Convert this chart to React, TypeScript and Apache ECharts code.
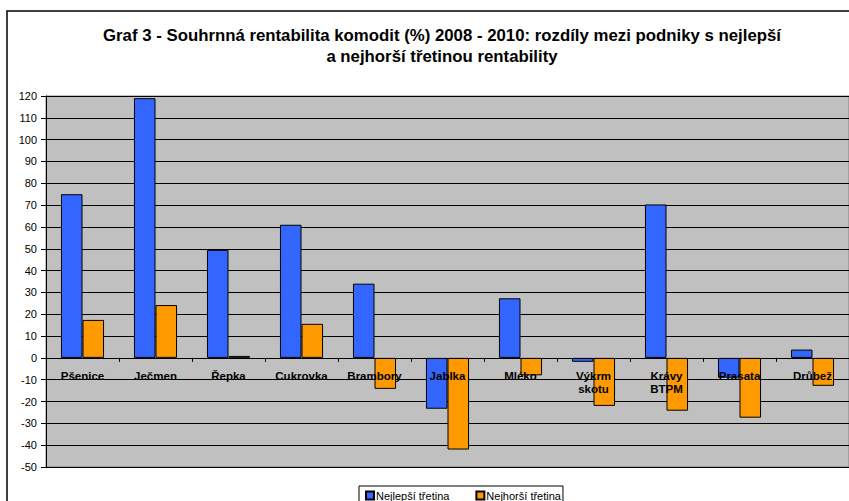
import React, { useEffect, useRef } from "react";
import * as echarts from "echarts";

const categories = [
  "Pšenice",
  "Ječmen",
  "Řepka",
  "Cukrovka",
  "Brambory",
  "Jablka",
  "Mléko",
  "Výkrm\nskotu",
  "Krávy\nBTPM",
  "Prasata",
  "Drůbež",
];
const bestThird = [75, 119, 49.5, 61, 34, -23.3, 27.3, -1.8, 70.3, -9.1, 3.8];
const worstThird = [17.4, 24.2, 0.9, 15.6, -14.2, -42, -8, -22, -24.2, -27.4, -12.8];
const seriesNames = ["Nejlepší třetina", "Nejhorší třetina"];
const titleText =
  "Graf 3 - Souhrnná rentabilita komodit (%) 2008 - 2010: rozdíly mezi podniky s nejlepší\na nejhorší třetinou rentability";
const yMin = -50;
const yMax = 120;

const FONT = "'Liberation Sans', Arial, sans-serif";
const GRID_TOP = 96;
const GRID_H = 371;

export default function App() {
  const ref = useRef<HTMLDivElement>(null);
  useEffect(() => {
    document.body.style.margin = "0";
    const chart = echarts.init(ref.current!, null, { renderer: "svg" });
    // distance from the grid bottom to the zero line, so the category axis sits on zero
    const zeroOffset = (GRID_H * (0 - yMin)) / (yMax - yMin);
    chart.setOption({
      animation: false,
      backgroundColor: "#ffffff",
      textStyle: { fontFamily: FONT },
      title: {
        text: titleText,
        left: 437,
        top: 20,
        textAlign: "center",
        textStyle: {
          fontFamily: FONT,
          fontSize: 16.8,
          fontWeight: "bold",
          color: "#000",
          lineHeight: 21,
        },
      },
      graphic: [
        {
          type: "rect",
          shape: { x: 7, y: 11, width: 860, height: 520 },
          style: { fill: "none", stroke: "#000", lineWidth: 1.5 },
          silent: true,
          z: 100,
        },
      ],
      legend: {
        left: 359,
        top: 486,
        itemWidth: 8,
        itemHeight: 8,
        itemGap: 26,
        padding: [4, 2, 6, 6],
        borderColor: "#000",
        borderWidth: 1,
        borderRadius: 0,
        icon: "rect",
        textStyle: { fontFamily: FONT, fontSize: 11, color: "#000", padding: [0, 0, 0, -3] },
        data: seriesNames,
      },
      grid: {
        left: 46,
        top: GRID_TOP,
        width: 808,
        height: GRID_H,
        show: true,
        backgroundColor: "#c0c0c0",
        borderColor: "#808080",
        borderWidth: 1,
      },
      xAxis: {
        type: "category",
        data: categories,
        z: 5,
        position: "bottom",
        offset: -zeroOffset,
        axisLine: { onZero: false, lineStyle: { color: "#000", width: 1 } },
        axisTick: { show: true, length: 4, lineStyle: { color: "#000" } },
        axisLabel: {
          fontFamily: FONT,
          fontSize: 11.5,
          fontWeight: "bold",
          color: "#000",
          margin: 12,
          lineHeight: 13,
          interval: 0,
        },
      },
      yAxis: {
        type: "value",
        min: yMin,
        max: yMax,
        interval: 10,
        axisLine: { show: true, lineStyle: { color: "#000", width: 1 } },
        axisTick: { show: true, length: 5, lineStyle: { color: "#000" } },
        axisLabel: { fontFamily: FONT, fontSize: 11, color: "#000", margin: 9 },
        splitLine: { show: true, lineStyle: { color: "#000", width: 1 } },
      },
      series: [
        {
          name: seriesNames[0],
          type: "bar",
          data: bestThird,
          barGap: "0%",
          barCategoryGap: "41%",
          itemStyle: { color: "#3366ff", borderColor: "#000", borderWidth: 1 },
        },
        {
          name: seriesNames[1],
          type: "bar",
          data: worstThird,
          barGap: "0%",
          barCategoryGap: "41%",
          itemStyle: { color: "#ff9900", borderColor: "#000", borderWidth: 1 },
        },
      ],
    });
    return () => chart.dispose();
  }, []);
  return <div ref={ref} style={{ width: 849, height: 501 }} />;
}
